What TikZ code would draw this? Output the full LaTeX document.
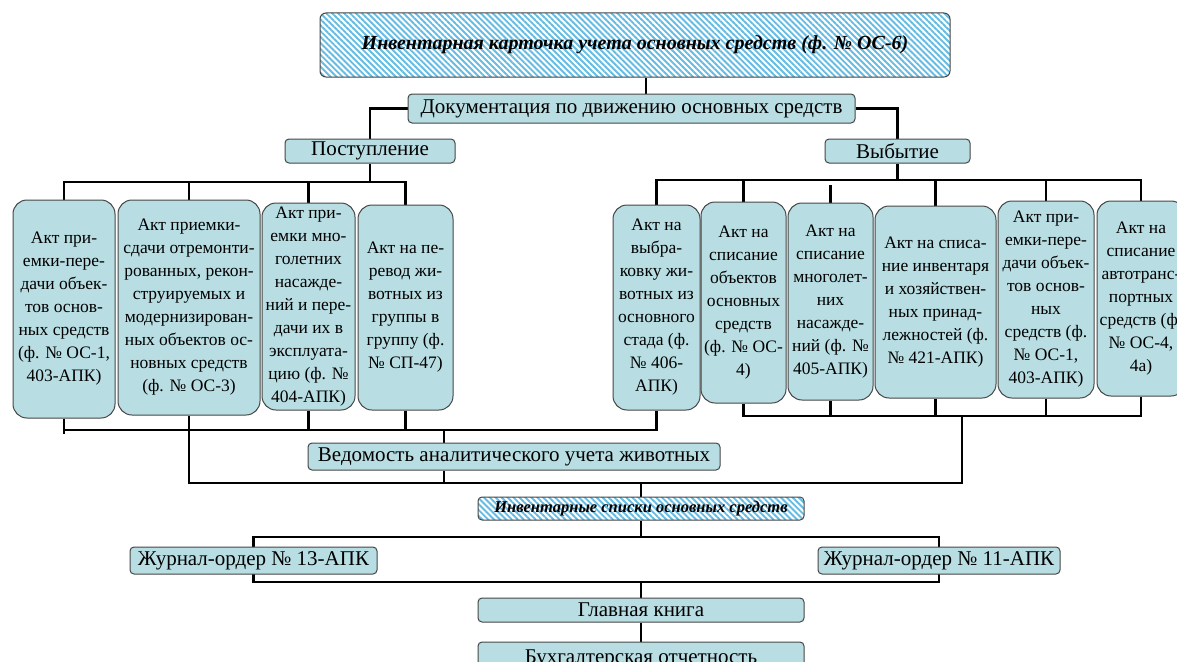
\documentclass[tikz,border=0pt]{standalone}
\usepackage{fontspec}
\setmainfont{Liberation Serif}
\usetikzlibrary{patterns.meta,backgrounds}

\definecolor{boxfill}{RGB}{184,222,227}
\definecolor{boxline}{RGB}{70,70,70}
\definecolor{hatchblue}{RGB}{100,188,228}

\begin{document}
\begin{tikzpicture}[x=1pt,y=-1pt,
  box/.style={draw=boxline, line width=1pt, fill=boxfill, rounded corners=4pt,
    inner sep=0pt, font=\fontsize{21}{23}\selectfont},
  act/.style={box, rounded corners=14pt, align=center,
    font=\fontsize{17.5}{23}\selectfont},
  hatched/.style={draw=boxline, line width=1pt, rounded corners=6pt, inner sep=0pt,
    preaction={fill=white},
    pattern={Lines[angle=-45,distance=4.2pt,line width=1.9pt]}, pattern color=hatchblue},
  sz/.style 2 args={minimum width=#1pt, minimum height=#2pt},
  link/.style={line width=2.8pt, black}]
  \useasboundingbox (0,0) rectangle (1177,661);
  \clip (0,0) rectangle (1177,661);

  % header and the two branches
  \node[hatched, sz={630}{64}, font=\fontsize{20}{22}\bfseries\itshape] (card) at (635,45)
    {Инвентарная карточка учета основных средств (ф. № ОС-6)};
  \node[box, sz={447}{29}] (docs) at (631.5,108.5) {Документация по движению основных средств};
  \node[box, sz={170}{24}] (inc) at (370,151) {Поступление};
  \node[box, sz={145}{24}] (out) at (897.5,151) {Выбытие};

  % acts on arrival
  \node[act, sz={102}{218}] (L1) at (64,309)
    {Акт при-\\емки-пере-\\дачи объек-\\тов основ-\\ных средств\\(ф. № ОС-1,\\403-АПК)};
  \node[act, sz={142}{215}] (L2) at (189,307.5)
    {Акт приемки-\\сдачи отремонти-\\рованных, рекон-\\струируемых и\\модернизирован-\\ных объектов ос-\\новных средств\\(ф. № ОС-3)};
  \node[act, sz={93}{207}] (L3) at (308.5,306.5)
    {Акт при-\\емки мно-\\голетних\\насажде-\\ний и пере-\\дачи их в\\эксплуата-\\цию (ф. №\\404-АПК)};
  \node[act, sz={95}{205}] (L4) at (405.5,307.5)
    {Акт на пе-\\ревод жи-\\вотных из\\группы в\\группу (ф.\\№ СП-47)};

  % acts on disposal
  \node[act, sz={87}{205}] (R1) at (656.5,307.5)
    {Акт на\\выбра-\\ковку жи-\\вотных из\\основного\\стада (ф.\\№ 406-\\АПК)};
  \node[act, sz={85}{201}] (R2) at (743.5,302.5)
    {Акт на\\списание\\объектов\\основных\\средств\\(ф. № ОС-\\4)};
  \node[act, sz={85}{197}] (R3) at (830.5,301.5)
    {Акт на\\списание\\многолет-\\них\\насажде-\\ний (ф. №\\405-АПК)};
  \node[act, sz={121}{192}] (R4) at (935.5,302)
    {Акт на списа-\\ние инвентаря\\и хозяйствен-\\ных принад-\\лежностей (ф.\\№ 421-АПК)};
  \node[act, sz={96}{197}] (R5) at (1046,299.5)
    {Акт при-\\емки-пере-\\дачи объек-\\тов основ-\\ных\\средств (ф.\\№ ОС-1,\\403-АПК)};
  \node[act, sz={88}{195}] (R6) at (1141,298.5)
    {Акт на\\списание\\автотранс-\\портных\\средств (ф.\\№ ОС-4,\\4а)};

  % registers
  \node[box, sz={412}{27}] (vedom) at (514,456.5) {Ведомость аналитического учета животных};
  \node[hatched, sz={326}{23}, rounded corners=4pt, font=\fontsize{16.5}{18}\bfseries\itshape] (invlist) at (641,508.5)
    {Инвентарные списки основных средств};
  \node[box, sz={247}{27}] (j13) at (253.5,560.5) {Журнал-ордер № 13-АПК};
  \node[box, sz={242}{27}] (j11) at (939,560.5) {Журнал-ордер № 11-АПК};
  \node[box, sz={326}{24}] (ledger) at (641,610) {Главная книга};
  \node[box, sz={326}{34}] (report) at (641,659) {Бухгалтерская отчетность};

  \coordinate (lt) at (0,182);
  \coordinate (rt) at (0,180);
  \coordinate (lb) at (0,430);
  \coordinate (rb) at (0,416);
  \coordinate (low) at (0,483);
  \coordinate (hub) at (962,483);
  \coordinate (bt) at (0,537);
  \coordinate (bb) at (0,582);

  \begin{scope}[on background layer]
    \draw[link] ([xshift=11pt]card.south) -- ([xshift=11pt]card.south |- docs.north);
    \draw[link] (docs.west) -| (inc.north);
    \draw[link] (docs.east) -| (out.north);

    % upper buses
    \draw[link] (inc.south) -- (inc.south |- lt);
    \draw[link] (L1.north) |- (lt -| L4.north) -- (L4.north);
    \foreach \n in {L2,L3} \draw[link] (\n.north) -- (\n.north |- lt);
    \draw[link] (out.south) -- (out.south |- rt);
    \draw[link] (R1.north) |- (rt -| R6.north) -- (R6.north);
    \foreach \n in {R2,R4,R5} \draw[link] (\n.north) -- (\n.north |- rt);
    \draw[link] (R3.north) -- ([yshift=-5pt]R3.north |- rt);

    % lower buses
    \draw[link] (L1.south) -- ([yshift=-4pt]L1.south |- lb);
    \draw[link] (L1.south |- lb) -| (R1.south);
    \foreach \n in {L3,L4} \draw[link] (\n.south) -- (\n.south |- lb);
    \draw[link] (L2.south) |- (hub) |- (rb -| R2.south) -- (R2.south);
    \draw[link] (R2.south |- rb) -| (R6.south);
    \foreach \n in {R3,R4,R5} \draw[link] (\n.south) -- (\n.south |- rb);
    \draw[link] ([xshift=-70pt]vedom.north) -- ([xshift=-70pt]vedom.north |- lb);
    \draw[link] ([xshift=-70pt]vedom.south) -- ([xshift=-70pt]vedom.south |- low);

    % journals and ledger
    \draw[link] (invlist.north) -- (invlist.north |- low);
    \draw[link] (invlist.south) -- (invlist.south |- bt);
    \draw[link] (j13.center |- bt) rectangle (j11.center |- bb);
    \draw[link] (ledger.north) -- (ledger.north |- bb);
    \draw[link] (ledger.south) -- (report.north);
  \end{scope}
\end{tikzpicture}
\end{document}
